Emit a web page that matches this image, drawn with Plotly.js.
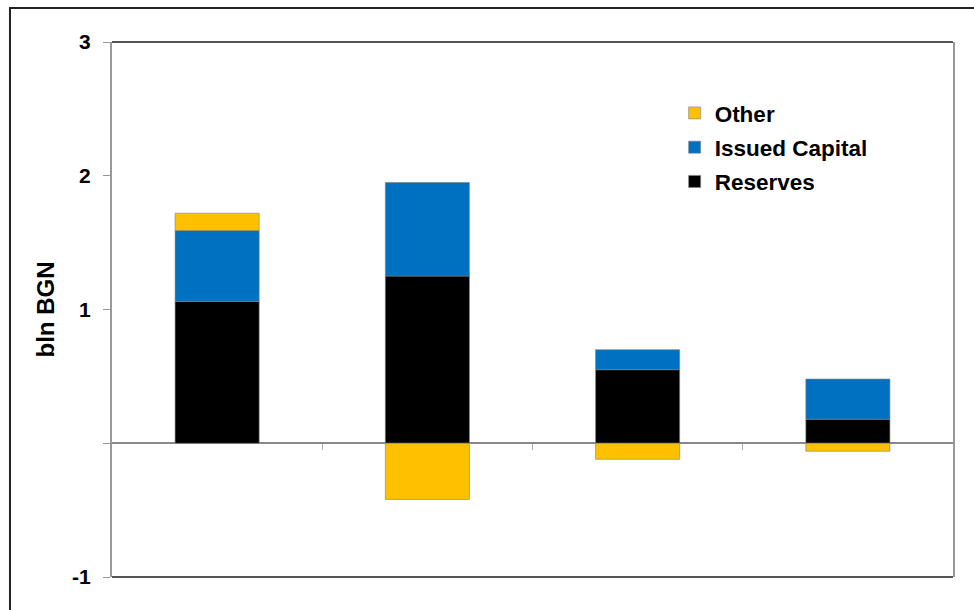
<!DOCTYPE html>
<html>
<head>
<meta charset="utf-8">
<script src="https://cdn.plot.ly/plotly-3.0.1.min.js"></script>
<style>html,body{margin:0;padding:0;background:#fff;}#chart{width:974px;height:610px;}</style>
</head>
<body>
<div id="chart"></div>
<script>
var categories = [0, 1, 2, 3];
var reserves = [1.06, 1.25, 0.55, 0.18];
var issuedCapital = [0.53, 0.70, 0.15, 0.30];
var other = [0.13, -0.42, -0.12, -0.06];
var seriesNames = ['Reserves', 'Issued Capital', 'Other'];
var seriesColors = ['#000000', '#0070C0', '#FFC000'];
var legendRanks = [3, 2, 1];
var yTickVals = [-1, 0, 1, 2, 3];
var yTickText = ['-1', '', '1', '2', '3'];

var font = {family: 'Liberation Sans, Arial, sans-serif', size: 20, color: '#000', weight: 'bold'};
var bigFont = {family: 'Liberation Sans, Arial, sans-serif', size: 22.5, color: '#000', weight: 'bold'};
var seriesValues = [reserves, issuedCapital, other];
var traces = seriesValues.map(function (vals, i) {
  return {
    type: 'bar', x: categories, y: vals, name: seriesNames[i], legendgroup: 'g' + i,
    legendrank: legendRanks[i],
    width: 0.4,
    marker: {color: seriesColors[i], line: {color: 'rgba(128,128,128,0.6)', width: 1}},
    hoverinfo: 'y'
  };
});

var layout = {
  width: 974, height: 610,
  margin: {l: 112, r: 21, t: 42, b: 33},
  paper_bgcolor: '#fff', plot_bgcolor: '#fff',
  barmode: 'relative',
  bargap: 0.6,
  font: font,
  showlegend: true,
  legend: {x: 0.669, y: 0.907, xanchor: 'left', yanchor: 'top', traceorder: 'grouped',
           tracegroupgap: 2, font: bigFont, bgcolor: 'rgba(0,0,0,0)', itemwidth: 30},
  xaxis: {range: [-0.5, 3.5], tickmode: 'array', tickvals: [0.5, 1.5, 2.5], showticklabels: false,
          ticks: 'outside', ticklen: 6, tickcolor: '#aaa', tickwidth: 1,
          showgrid: false, zeroline: false, showline: false, anchor: 'free', position: 0.25, fixedrange: true},
  yaxis: {range: [-1, 3], tickmode: 'array', tickvals: yTickVals, ticktext: yTickText,
          ticks: 'outside', ticklen: 7, tickcolor: '#999', tickwidth: 1, ticklabelstandoff: 8,
          showgrid: false, showline: true, linecolor: '#999', linewidth: 2, mirror: true,
          zeroline: true, zerolinecolor: '#888', zerolinewidth: 2,
          tickfont: {family: 'Liberation Sans, Arial, sans-serif', size: 21, color: '#000', weight: 'bold'},
          title: {text: 'bln BGN', font: {family: 'Liberation Sans, Arial, sans-serif', size: 24, color: '#000', weight: 'bold'}, standoff: 11}},
  shapes: [
    {type: 'line', xref: 'paper', yref: 'paper', x0: 0, x1: 1, y0: 1, y1: 1, line: {color: '#555', width: 2}},
    {type: 'line', xref: 'paper', yref: 'paper', x0: 0, x1: 1, y0: 0, y1: 0, line: {color: '#555', width: 2}},
    {type: 'rect', xref: 'paper', yref: 'paper', x0: -0.1213, x1: 1.05, y0: -0.1, y1: 1.0636,
     line: {color: '#222', width: 2}, fillcolor: 'rgba(0,0,0,0)', layer: 'below'}
  ]
};

Plotly.newPlot('chart', traces, layout, {displayModeBar: false, staticPlot: true});
</script>
</body>
</html>
